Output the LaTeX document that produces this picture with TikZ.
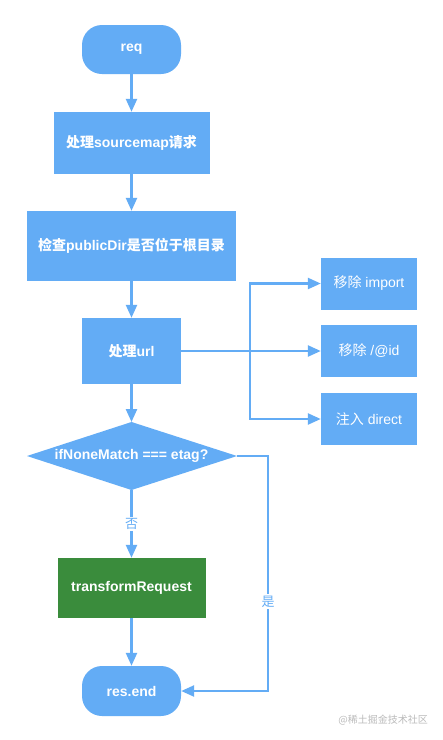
\documentclass[tikz,border=0pt]{standalone}
\usepackage{fontspec}
\setmainfont{Liberation Sans}
\newfontfamily\cjk{Noto Sans CJK SC}
\usetikzlibrary{arrows.meta}
\definecolor{nblue}{HTML}{63ACF5}
\definecolor{ngreen}{HTML}{3A8C3C}
\definecolor{wm}{HTML}{BBBBBB}
\begin{document}
\begin{tikzpicture}[x=1pt,y=-1pt,
  base/.style={fill=nblue, text=white, inner sep=0pt, font=\bfseries\fontsize{14}{16}\selectfont},
  term/.style={base, rounded corners=20pt, minimum width=99pt, minimum height=49pt},
  proc/.style={base, minimum height=62pt},
  side/.style={base, font=\fontsize{14}{16}\selectfont, minimum width=96pt, minimum height=52pt},
  arr/.style={draw=nblue, line width=2.4pt, -{Triangle[length=13pt,width=11pt]}},
  lab/.style={fill=white, text=nblue, inner sep=1.5pt, font=\cjk\fontsize{13}{15}\selectfont}
]
\useasboundingbox (0,0) rectangle (443,740);
\fill[white] (0,0) rectangle (443,740);

\node[term] (req) at (131.5,49.5) {req};
\node[proc, minimum width=156pt] (sm) at (131.5,143) {{\cjk\bfseries 处理}sourcemap{\cjk\bfseries 请求}};
\node[proc, minimum width=209pt, minimum height=70pt] (pub) at (131.5,246) {{\cjk\bfseries 检查}publicDir{\cjk\bfseries 是否位于根目录}};
\node[proc, minimum width=99pt, minimum height=66pt] (url) at (131.5,351) {{\cjk\bfseries 处理}url};

\node[side] (imp) at (369,283.5) {{\cjk 移除} import};
\node[side] (id) at (369,351) {{\cjk 移除} /@id};
\node[side] (dir) at (369,419) {{\cjk 注入} direct};

\coordinate (diaT) at (131.5,422);
\coordinate (diaB) at (131.5,490);
\coordinate (diaL) at (27,456);
\coordinate (diaR) at (237,456);
\fill[nblue] (diaL) -- (diaT) -- (diaR) -- (diaB) -- cycle;
\node[base, fill=none] (dia) at (131.5,456) {ifNoneMatch === etag?};

\node[base, fill=ngreen, minimum width=148pt, minimum height=60pt] (tr) at (131.5,588) {transformRequest};
\node[term, minimum height=50pt] (end) at (131.5,691) {res.end};

\coordinate (br) at (250,351);
\coordinate (yes) at (268,456);

\draw[arr] (req) -- (sm);
\draw[arr] (sm) -- (pub);
\draw[arr] (pub) -- (url);
\draw[arr] (url) -- (diaT);
\draw[arr] (url.east) -- (id.west);
\draw[arr] (br) |- (imp.west);
\draw[arr] (br) |- (dir.west);
\draw[arr] (diaB) -- node[lab] {否} (tr.north);
\draw[arr] (tr) -- (end);
\draw[arr] (diaR) -- (yes) |- node[lab, pos=0.31] {是} (end.east);

\node[anchor=east, text=wm, inner sep=0pt, font=\cjk\fontsize{10}{12}\selectfont] (wmk) at (428,720) {@稀土掘金技术社区};
\end{tikzpicture}
\end{document}
